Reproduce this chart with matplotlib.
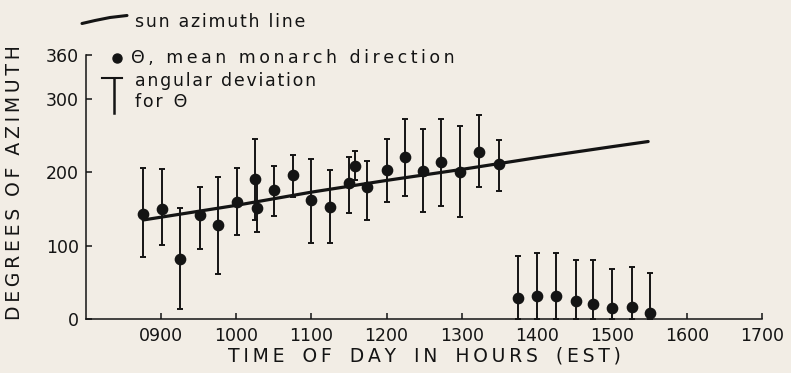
import matplotlib
matplotlib.use("Agg")
import matplotlib.pyplot as plt
from matplotlib.lines import Line2D
import numpy as np

# monarch observations (time in decimal hours, azimuth in degrees)
obs_time = [8.76, 9.01, 9.25, 9.52, 9.76, 10.01, 10.25, 10.27, 10.50, 10.75,
            11.00, 11.24, 11.50, 11.58, 11.74, 12.00, 12.24, 12.48, 12.73, 12.98,
            13.23, 13.49, 13.75, 14.00, 14.25, 14.52, 14.75, 15.00, 15.26, 15.51]
obs_mean = [143, 150, 82, 142, 128, 160, 191, 152, 176, 197,
            162, 153, 185, 209, 180, 203, 221, 202, 214, 201,
            228, 211, 29, 32, 32, 24, 21, 15, 16, 8]
dev_top = [206, 205, 152, 180, 193, 206, 245, 187, 208, 223,
           218, 203, 221, 229, 215, 245, 273, 259, 273, 263,
           278, 244, 86, 90, 90, 81, 80, 68, 71, 63]
dev_bottom = [84, 101, 14, 96, 61, 115, 135, 118, 140, 167,
              103, 103, 144, 190, 135, 159, 168, 146, 154, 139,
              180, 174, 0, 0, 0, 0, 0, 0, 0, 0]

# sun azimuth curve
sun_time = [8.76, 10.0, 11.0, 12.0, 13.0, 14.0, 15.0, 15.48]
sun_az = [135, 155, 173, 189, 204, 220, 235, 242]

xticks = [9, 10, 11, 12, 13, 14, 15, 16, 17]
xtick_labels = ["0900", "1000", "1100", "1200", "1300", "1400", "1500", "1600", "1700"]
yticks = [0, 100, 200, 300, 360]

BG = "#f2ede5"
INK = "#141414"
TS = "\u2009"  # thin space for the wide lettering
HS = "\u200a"  # hair space, a bit tighter


def spaced(s, sep=TS):
    return sep.join(s)


fig = plt.figure(figsize=(7.91, 3.73), dpi=100, facecolor=BG)
W, H = 791, 373
ax = fig.add_axes([86 / W, 1 - 319 / H, (762.4 - 86) / W, (319 - 55) / H])
ax.set_facecolor(BG)

ax.plot(sun_time, sun_az, color=INK, lw=2.3, solid_capstyle="round", zorder=2)

mean = np.array(obs_mean)
yerr = [mean - np.array(dev_bottom), np.array(dev_top) - mean]
ax.errorbar(obs_time, obs_mean, yerr=yerr, fmt="o", color=INK, ms=7.4,
            elinewidth=1.4, capsize=2.3, capthick=1.4, zorder=3)

ax.set_xlim(8.0, 17.0)
ax.set_ylim(0, 360)
ax.set_xticks(xticks)
ax.set_xticklabels(xtick_labels)
ax.set_yticks(yticks)
for s in ["top", "right"]:
    ax.spines[s].set_visible(False)
for s in ["left", "bottom"]:
    ax.spines[s].set_linewidth(1.1)
    ax.spines[s].set_color(INK)
ax.tick_params(direction="in", length=4, width=1.1, colors=INK, labelsize=12.5)
ax.tick_params(axis="x", pad=6)
ax.tick_params(axis="y", pad=5)

ax.set_xlabel(spaced("TIME") + "   " + spaced("OF") + "   " + spaced("DAY") + "   "
              + spaced("IN") + "   " + spaced("HOURS") + "   " + spaced("(EST)"),
              fontsize=13.5, color=INK, labelpad=1)
fig.text(15 / W, 1 - 183 / H,
         spaced("DEGREES") + "  " + spaced("OF") + "  " + spaced("AZIMUTH"),
         rotation=90, ha="center", va="center", fontsize=13.5, color=INK)

# hand-drawn style key in the top left
lx = np.array([82, 95, 110, 127]) / W
ly = 1 - np.array([23.5, 20.5, 17.5, 15.5]) / H
fig.add_artist(Line2D(lx, ly, color=INK, lw=2.2, solid_capstyle="round"))
fig.text(135 / W, 1 - 22 / H, spaced("sun azimuth line", HS), fontsize=12.5,
         color=INK, va="center")

fig.add_artist(Line2D([117 / W], [1 - 58 / H], marker="o", ms=6.5, color=INK))
fig.text(131 / W, 1 - 58 / H, spaced("\u0398, mean monarch direction"), fontsize=12.5,
         color=INK, va="center")

fig.add_artist(Line2D([102 / W, 122 / W], [1 - 78 / H, 1 - 78 / H], color=INK, lw=1.5))
fig.add_artist(Line2D([114 / W, 114 / W], [1 - 78 / H, 1 - 113 / H], color=INK, lw=1.8))
fig.text(135 / W, 1 - 81 / H, spaced("angular deviation", HS), fontsize=12.5,
         color=INK, va="center")
fig.text(135 / W, 1 - 102 / H, spaced("for", HS) + "  \u0398", fontsize=12.5,
         color=INK, va="center")

fig.savefig("out.png", dpi=100, facecolor=BG)
